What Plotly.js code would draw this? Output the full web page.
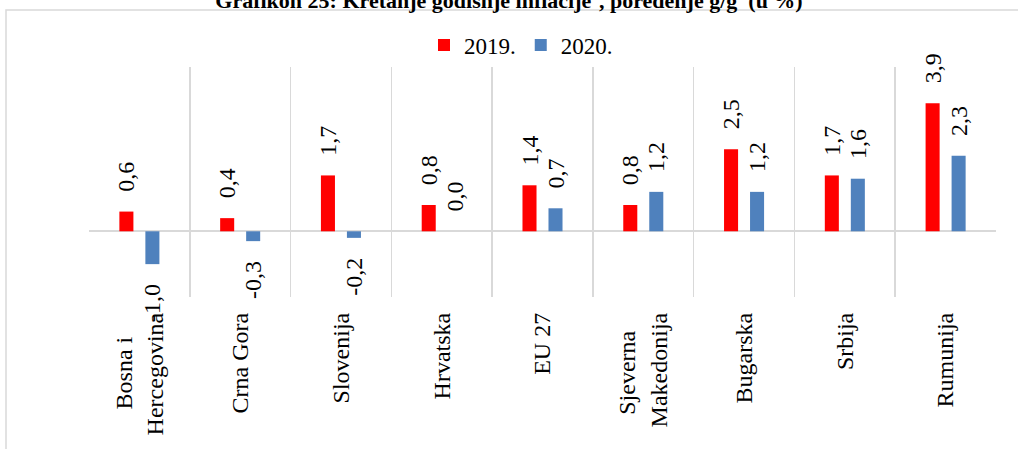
<!DOCTYPE html>
<html>
<head>
<meta charset="utf-8">
<script src="https://cdn.plot.ly/plotly-3.0.1.min.js"></script>
<style>
  html, body { margin: 0; padding: 0; background: #ffffff; }
  #chart { width: 1018px; height: 449px; }
</style>
</head>
<body>
<div id="chart"></div>
<script>
// ---- data ----
const categories = [
  "Bosna i<br>Hercegovina",
  "Crna Gora",
  "Slovenija",
  "Hrvatska",
  "EU 27",
  "Sjeverna<br>Makedonija",
  "Bugarska",
  "Srbija",
  "Rumunija"
];
const values2019 = [0.6, 0.4, 1.7, 0.8, 1.4, 0.8, 2.5, 1.7, 3.9];
const values2020 = [-1.0, -0.3, -0.2, 0.0, 0.7, 1.2, 1.2, 1.6, 2.3];
const seriesNames = ["2019.", "2020."];
const titleText = "Grafikon 25: Kretanje godišnje inflacije<sup>1</sup>, poređenje g/g  (u %)";

// ---- helpers ----
const FONT = "Liberation Serif, Times New Roman, serif";
const TICK_SIZE = 24;
const LABEL_SIZE = 24;
const NBSP = "\u00a0";
const PAD = NBSP + NBSP + "\u2009";
function fmt(v) { return v.toFixed(1).replace(".", ","); }
function labels(arr) {
  return arr.map(v => v >= 0 ? PAD + fmt(v) : fmt(v) + PAD);
}
// centre the lines of multi-line (rotated) tick labels, as in the reference
const ctx = document.createElement("canvas").getContext("2d");
ctx.font = TICK_SIZE + "px 'Liberation Serif'";
let spaceW = ctx.measureText(NBSP).width;
if (!spaceW || spaceW < 2) spaceW = TICK_SIZE * 0.25;
function centreLines(label) {
  const lines = label.split("<br>");
  if (lines.length < 2) return label;
  const ws = lines.map(l => ctx.measureText(l).width);
  const maxW = Math.max(...ws);
  return lines.map((l, i) => l + NBSP.repeat(Math.max(0, Math.round((maxW - ws[i]) / 2 / spaceW)))).join("<br>");
}
const tickText = categories.map(centreLines);
const tickIdx = categories.map((c, i) => i);
const boundaries = categories.map((c, i) => i - 0.5).concat([categories.length - 0.5]);

const W = 1018, H = 449;
const M = { l: 89, r: 22, t: 67, b: 152 };
const pw = W - M.l - M.r, ph = H - M.t - M.b;
const px2x = x => (x - M.l) / pw;
const py2y = y => (H - M.b - y) / ph;

const common = {
  type: "bar",
  x: tickIdx,
  textposition: "outside",
  textangle: -90,
  constraintext: "none",
  cliponaxis: false,
  textfont: { family: FONT, size: LABEL_SIZE, color: "#000000" },
  hoverinfo: "skip"
};

const traces = [
  Object.assign({}, common, {
    name: seriesNames[0],
    y: values2019,
    text: labels(values2019),
    marker: { color: "#FF0000" }
  }),
  Object.assign({}, common, {
    name: seriesNames[1],
    y: values2020,
    text: labels(values2020),
    marker: { color: "#4F81BD" }
  })
];

const layout = {
  width: W,
  height: H,
  margin: M,
  paper_bgcolor: "#ffffff",
  plot_bgcolor: "#ffffff",
  font: { family: FONT, size: 22, color: "#000000" },
  separators: ",.",
  barmode: "group",
  bargap: 0.484,
  bargroupgap: 0.46,
  title: {
    text: titleText,
    font: { family: FONT, size: 22, color: "#000000", weight: "bold" },
    x: 0.5,
    xanchor: "center",
    xref: "container",
    y: 1,
    yref: "container",
    yanchor: "middle",
    pad: { t: 0, b: 0, l: 0, r: 0 }
  },
  showlegend: true,
  legend: {
    orientation: "h",
    x: px2x(521),
    xanchor: "center",
    y: py2y(45),
    yanchor: "middle",
    font: { family: FONT, size: 23, color: "#000000" },
    bgcolor: "rgba(0,0,0,0)",
    itemclick: false
  },
  xaxis: {
    type: "linear",
    range: [-0.5, categories.length - 0.5],
    tickmode: "array",
    tickvals: tickIdx,
    ticktext: tickText,
    showgrid: false,
    ticks: "",
    tickangle: -90,
    ticklabelstandoff: 10,
    tickfont: { family: FONT, size: TICK_SIZE, color: "#000000" },
    showline: false,
    zeroline: false,
    fixedrange: true
  },
  xaxis2: {
    type: "linear",
    overlaying: "x",
    matches: "x",
    range: [-0.5, categories.length - 0.5],
    tickmode: "array",
    tickvals: boundaries,
    showticklabels: false,
    showgrid: true,
    gridcolor: "#d9d9d9",
    gridwidth: 1.5,
    ticks: "",
    showline: false,
    zeroline: false,
    fixedrange: true,
    layer: "below traces"
  },
  yaxis: {
    range: [-2, 5],
    showgrid: false,
    showticklabels: false,
    ticks: "",
    zeroline: true,
    zerolinecolor: "#d9d9d9",
    zerolinewidth: 2,
    showline: false,
    fixedrange: true
  },
  shapes: [
    {
      type: "rect",
      xref: "paper",
      yref: "paper",
      x0: px2x(6),
      x1: px2x(1100),
      y0: py2y(520),
      y1: py2y(10),
      line: { color: "#d9d9d9", width: 1.5 },
      fillcolor: "rgba(0,0,0,0)",
      layer: "below"
    }
  ]
};

// invisible helper trace so the boundary grid axis is drawn
traces.push({
  type: "scatter",
  x: [boundaries[0]],
  y: [0],
  xaxis: "x2",
  yaxis: "y",
  mode: "markers",
  marker: { opacity: 0 },
  showlegend: false,
  hoverinfo: "skip"
});

Plotly.newPlot("chart", traces, layout, { displayModeBar: false, staticPlot: true });
</script>
</body>
</html>
